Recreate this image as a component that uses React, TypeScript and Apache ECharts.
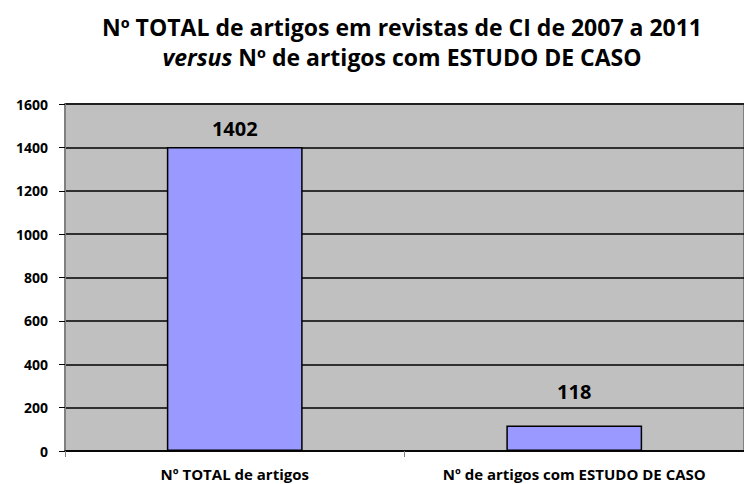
import React, { useEffect, useRef } from "react";
import * as echarts from "echarts";

const categories = ["Nº TOTAL de artigos", "Nº de artigos com ESTUDO DE CASO"];
const values = [1402, 118];
const titleLine1 = "Nº TOTAL de artigos em revistas de CI de 2007 a 2011";
const titleLine2Italic = "versus";
const titleLine2Rest = " Nº de artigos com ESTUDO DE CASO";

export default function App() {
  const ref = useRef<HTMLDivElement>(null);
  useEffect(() => {
    document.body.style.margin = "0";
    if (!ref.current) return;
    const chart = echarts.init(ref.current, null, { renderer: "svg" });
    const font = "'Open Sans', 'Noto Sans', sans-serif";
    chart.setOption({
      animation: false,
      backgroundColor: "#ffffff",
      title: {
        text: "{b|" + titleLine1 + "}\n{i|" + titleLine2Italic + "}{b|" + titleLine2Rest + "}",
        left: 397,
        top: 7,
        textAlign: "center",
        textStyle: {
          rich: {
            b: { fontFamily: font, fontWeight: "bold", fontSize: 23, color: "#000", lineHeight: 30 },
            i: { fontFamily: font, fontWeight: "bold", fontStyle: "italic", fontSize: 23, color: "#000", lineHeight: 30 },
          },
        },
      },
      grid: { left: 65, right: -9, top: 104, bottom: 33, show: true, backgroundColor: "#C0C0C0", borderColor: "#808080", borderWidth: 2 },
      xAxis: {
        type: "category",
        data: categories,
        axisLine: { show: true, lineStyle: { color: "#000", width: 1.5 } },
        axisTick: { show: true, alignWithLabel: false, length: 6, lineStyle: { color: "#808080" } },
        axisLabel: { interval: 0, hideOverlap: false, fontFamily: font, fontWeight: "bold", fontSize: 15, color: "#000", margin: 15 },
      },
      yAxis: {
        type: "value",
        min: 0,
        max: 1600,
        interval: 200,
        axisLine: { show: true, lineStyle: { color: "#808080", width: 1 } },
        axisTick: { show: true, length: 6, lineStyle: { color: "#000" } },
        splitLine: { show: true, lineStyle: { color: "#000", width: 1.5 } },
        axisLabel: { fontFamily: font, fontWeight: "bold", fontSize: 14, color: "#000", margin: 17, formatter: (v: number) => String(v) },
      },
      series: [
        {
          type: "bar",
          barWidth: "40%",
          data: values.map((v, i) => ({
            value: v,
            label: { distance: i === 0 ? 8 : 24 },
          })),
          itemStyle: { color: "#9999FF", borderColor: "#000", borderWidth: 1.5 },
          label: { show: true, position: "top", fontFamily: font, fontWeight: "bold", fontSize: 20, color: "#000" },
        },
      ],
    });
    return () => chart.dispose();
  }, []);
  return <div ref={ref} style={{ width: 744, height: 484 }} />;
}
